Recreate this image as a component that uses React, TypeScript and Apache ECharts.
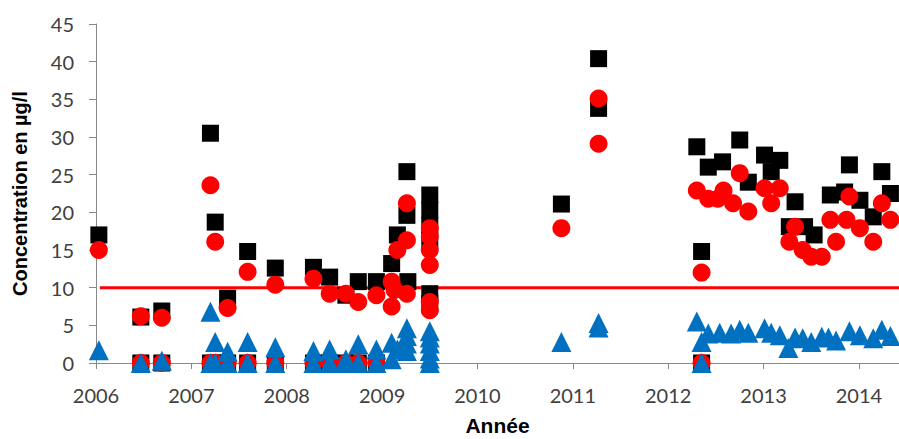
import { useEffect, useRef } from "react";
import * as echarts from "echarts";

const yearTicks = [2006, 2007, 2008, 2009, 2010, 2011, 2012, 2013, 2014];
const xMin = 2006;
const xMax = 2014.42;
const yMin = 0;
const yMax = 45;
const yStep = 5;

const limitValue = 10;
const limitStart = 2006.04;

// Black squares [year, µg/l]
const blackSquares: [number, number][] = [
  [2006.03, 17.0],
  [2006.47, 6.1], [2006.47, 0],
  [2006.69, 6.9], [2006.69, 0],
  [2007.2, 30.5], [2007.2, 0],
  [2007.25, 18.7], [2007.25, 0],
  [2007.38, 8.6], [2007.38, 0],
  [2007.59, 14.8], [2007.59, 0],
  [2007.88, 12.6], [2007.88, 0],
  [2008.28, 12.7], [2008.28, 0],
  [2008.45, 11.4], [2008.45, 0],
  [2008.62, 9.0], [2008.62, 0],
  [2008.75, 10.8], [2008.75, 0],
  [2008.94, 10.8], [2008.94, 0],
  [2009.1, 13.2],
  [2009.16, 17.0],
  [2009.26, 25.4], [2009.26, 19.6], [2009.27, 10.8],
  [2009.5, 22.3], [2009.5, 20.3], [2009.5, 18.3], [2009.5, 16.3], [2009.5, 9.2], [2009.5, 7.9],
  [2010.88, 21.1],
  [2011.27, 40.4], [2011.27, 33.8],
  [2012.3, 28.7],
  [2012.35, 14.8], [2012.35, 0],
  [2012.42, 26.0],
  [2012.57, 26.7],
  [2012.75, 29.6],
  [2012.84, 24.0],
  [2013.01, 27.6],
  [2013.08, 25.4],
  [2013.17, 26.9],
  [2013.27, 18.1],
  [2013.33, 21.4],
  [2013.43, 18.1],
  [2013.53, 17.0],
  [2013.7, 22.3],
  [2013.85, 22.7],
  [2013.9, 26.3],
  [2014.01, 21.6],
  [2014.15, 19.4],
  [2014.24, 25.4],
  [2014.33, 22.5],
];

// Red circles [year, µg/l]
const redCircles: [number, number][] = [
  [2006.03, 15.0],
  [2006.47, 6.2], [2006.47, 0],
  [2006.69, 6.0], [2006.69, 0],
  [2007.2, 23.6], [2007.2, 0],
  [2007.25, 16.1], [2007.25, 0],
  [2007.38, 7.3], [2007.38, 0],
  [2007.59, 12.1], [2007.59, 0],
  [2007.88, 10.4], [2007.88, 0],
  [2008.28, 11.2], [2008.28, 0],
  [2008.45, 9.2], [2008.45, 0],
  [2008.62, 9.2], [2008.62, 0],
  [2008.75, 8.1], [2008.75, 0],
  [2008.94, 9.0], [2008.94, 0],
  [2009.1, 10.8], [2009.1, 7.5],
  [2009.13, 9.7],
  [2009.16, 15.0],
  [2009.26, 21.2], [2009.26, 16.3], [2009.26, 9.2],
  [2009.5, 17.9], [2009.5, 16.8], [2009.5, 15.0], [2009.5, 13.0], [2009.5, 8.1], [2009.5, 7.0],
  [2010.88, 17.9],
  [2011.27, 35.1], [2011.27, 29.1],
  [2012.3, 22.9],
  [2012.35, 12.0], [2012.35, 0],
  [2012.42, 21.8],
  [2012.52, 21.8],
  [2012.58, 22.9],
  [2012.68, 21.2],
  [2012.75, 25.2],
  [2012.84, 20.1],
  [2013.01, 23.2],
  [2013.08, 21.2],
  [2013.17, 23.2],
  [2013.27, 16.1],
  [2013.33, 18.1],
  [2013.41, 15.0],
  [2013.5, 14.1],
  [2013.61, 14.1],
  [2013.7, 19.0],
  [2013.76, 16.1],
  [2013.87, 19.0],
  [2013.9, 22.1],
  [2014.01, 17.9],
  [2014.15, 16.1],
  [2014.24, 21.2],
  [2014.33, 19.0],
];

// Blue triangles [year, µg/l]
const blueTriangles: [number, number][] = [
  [2006.03, 1.7],
  [2006.47, 0],
  [2006.69, 0.3],
  [2007.2, 6.8], [2007.2, 0],
  [2007.25, 2.8], [2007.25, 0],
  [2007.38, 1.5], [2007.38, 0],
  [2007.59, 2.8], [2007.59, 0],
  [2007.88, 2.1], [2007.88, 0],
  [2008.28, 1.6], [2008.28, 0],
  [2008.45, 1.8], [2008.45, 0],
  [2008.62, 0.5], [2008.62, 0],
  [2008.75, 2.5], [2008.75, 0],
  [2008.94, 1.8], [2008.94, 0],
  [2009.1, 2.7], [2009.1, 0.5],
  [2009.16, 1.8],
  [2009.26, 4.6], [2009.26, 3.6], [2009.26, 2.6], [2009.26, 1.6],
  [2009.5, 4.2], [2009.5, 3.4], [2009.5, 2.6], [2009.5, 1.6], [2009.5, 0.6], [2009.5, 0],
  [2010.88, 2.8],
  [2011.27, 5.3], [2011.27, 4.7],
  [2012.3, 5.5],
  [2012.35, 2.8], [2012.35, 0],
  [2012.42, 3.9],
  [2012.54, 4.0],
  [2012.66, 3.9],
  [2012.75, 4.4],
  [2012.84, 4.0],
  [2013.01, 4.6],
  [2013.08, 4.0],
  [2013.17, 3.7],
  [2013.26, 2.0],
  [2013.33, 3.4],
  [2013.41, 3.3],
  [2013.5, 2.8],
  [2013.61, 3.5],
  [2013.68, 3.4],
  [2013.76, 3.0],
  [2013.9, 4.2],
  [2014.01, 3.7],
  [2014.15, 3.3],
  [2014.24, 4.4],
  [2014.33, 3.6],
];

export default function App() {
  const ref = useRef<HTMLDivElement>(null);

  useEffect(() => {
    const chart = echarts.init(ref.current!, null, { renderer: "svg" });
    const tickFont = { fontFamily: "Lato", fontSize: 20, color: "#404040" };
    chart.setOption({
      animation: false,
      backgroundColor: "#ffffff",
      grid: { left: 96, right: 0, top: 24, bottom: 76, containLabel: false, outerBoundsMode: "none" },
      xAxis: {
        type: "value",
        min: xMin,
        max: xMax,
        interval: 1,
        name: "Année",
        nameLocation: "middle",
        nameGap: 52,
        nameTextStyle: { fontFamily: "Liberation Sans", fontWeight: "bold", fontSize: 21, color: "#000" },
        axisLine: { show: true, onZero: false, lineStyle: { color: "#888888", width: 1 } },
        axisTick: { show: true, inside: false, length: 6, customValues: yearTicks, lineStyle: { color: "#888888" } },
        axisLabel: { ...tickFont, margin: 22, customValues: yearTicks, formatter: (v: number) => String(Math.round(v)) },
        splitLine: { show: false },
      },
      yAxis: {
        type: "value",
        min: yMin,
        max: yMax,
        interval: yStep,
        name: "Concentration en µg/l",
        nameLocation: "middle",
        nameGap: 66,
        nameTextStyle: { fontFamily: "Liberation Sans", fontWeight: "bold", fontSize: 20, color: "#000" },
        axisLine: { show: true, lineStyle: { color: "#888888", width: 1 } },
        axisTick: { show: true, inside: false, length: 7, lineStyle: { color: "#888888" } },
        axisLabel: { ...tickFont, margin: 22 },
        splitLine: { show: false },
      },
      series: [
        {
          type: "line",
          data: [[limitStart, limitValue], [xMax, limitValue]],
          symbol: "none",
          lineStyle: { color: "#ff0000", width: 3 },
          z: 1,
          silent: true,
        },
        {
          type: "scatter",
          data: blackSquares,
          symbol: "rect",
          symbolSize: 17,
          itemStyle: { color: "#000000", opacity: 1 },
          z: 2,
        },
        {
          type: "scatter",
          data: redCircles,
          symbol: "circle",
          symbolSize: 18,
          itemStyle: { color: "#ff0000", opacity: 1 },
          z: 3,
        },
        {
          type: "scatter",
          data: blueTriangles,
          symbol: "triangle",
          symbolSize: 20,
          itemStyle: { color: "#0070c0", opacity: 1 },
          z: 4,
        },
      ],
    });
    return () => chart.dispose();
  }, []);

  return (
    <div
      ref={ref}
      style={{ position: "absolute", left: 0, top: 0, width: 899, height: 439 }}
    />
  );
}
